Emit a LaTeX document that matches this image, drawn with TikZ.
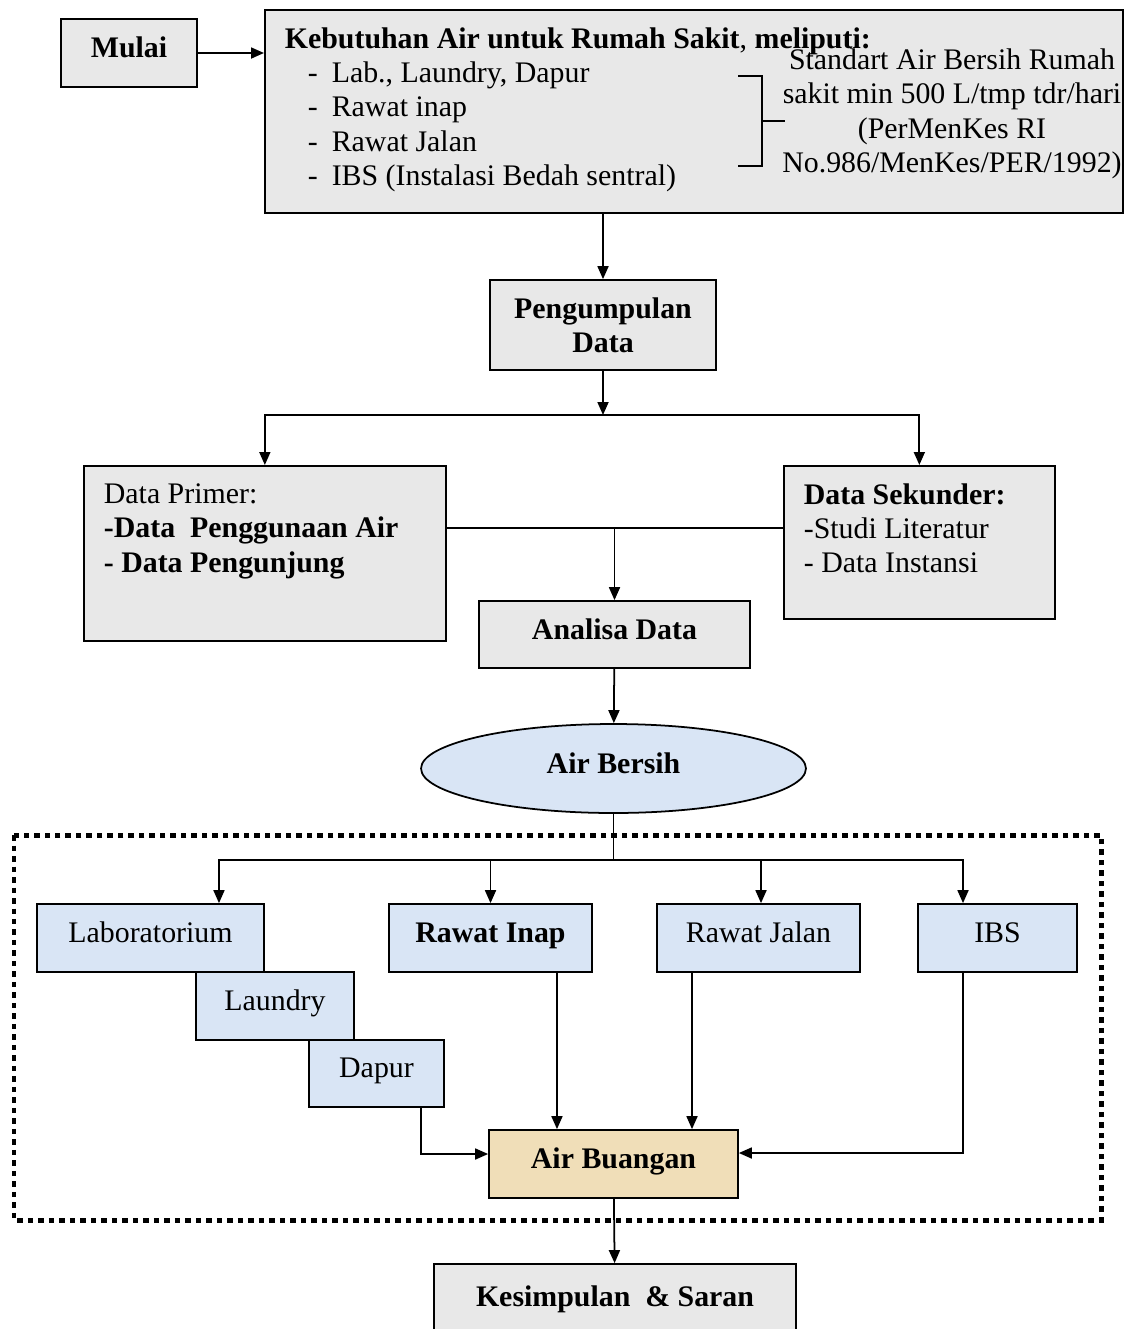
\documentclass[tikz,border=0pt]{standalone}
\usepackage{fontspec}
\setmainfont{Liberation Serif}
\usetikzlibrary{arrows.meta,shapes.geometric}
\definecolor{granit}{RGB}{232,232,232}
\definecolor{langit}{RGB}{217,229,245}
\definecolor{pasir}{RGB}{240,222,184}

\begin{document}
\begin{tikzpicture}[x=0.02cm,y=-0.02cm,
  font=\fontsize{17}{19.6}\selectfont,
  box/.style={rectangle,draw,line width=1pt,fill=granit,align=center,inner sep=0pt},
  lbl/.style={text depth=0.22cm},
  bluebox/.style={box,lbl,fill=langit},
  arr/.style={line width=1pt,-{Triangle[length=0.26cm,width=0.22cm]}},
  dotframe/.style={line width=0.1cm,dash pattern=on 0.11cm off 0.1cm}]
\useasboundingbox (0,0) rectangle (1130,1329);

\node [box,lbl,minimum width=2.72cm,minimum height=1.36cm] (mulai) at (129,53) {\textbf{Mulai}};
\node [box,anchor=north west,inner xsep=0.4cm,inner ysep=0.35cm] (kebutuhan) at (264,9)
  {\parbox[t][3.36cm][t]{16.36cm}{\textbf{Kebutuhan Air untuk Rumah Sakit}, \textbf{meliputi:}\\
   \hspace*{0.46cm}-\hspace{0.28cm}Lab., Laundry, Dapur\\
   \hspace*{0.46cm}-\hspace{0.28cm}Rawat inap\\
   \hspace*{0.46cm}-\hspace{0.28cm}Rawat Jalan\\
   \hspace*{0.46cm}-\hspace{0.28cm}IBS (Instalasi Bedah sentral)}};
\node [align=center,inner sep=0pt] (standar) at (952,114)
  {Standart Air Bersih Rumah\\sakit min 500 L/tmp tdr/hari\\(PerMenKes RI\\No.986/MenKes/PER/1992)};
\draw [line width=1pt] (738,76) -| (762,166) -- (738,166);
\draw [line width=1pt] (762,121) -- (785,121);

\node [box,minimum width=4.52cm,minimum height=1.8cm] (kumpul) at (603,325) {\textbf{Pengumpulan}\\\textbf{Data}};
\node [box,anchor=north west,inner xsep=0.4cm,inner ysep=0.35cm] (primer) at (83,465)
  {\parbox[t][2.8cm][t]{6.44cm}{Data Primer:\\\textbf{-Data\ \ Penggunaan Air}\\\textbf{- Data Pengunjung}}};
\node [box,anchor=north west,inner xsep=0.4cm,inner ysep=0.35cm] (sekunder) at (783,465)
  {\parbox[t][2.36cm][t]{4.62cm}{\textbf{Data Sekunder:}\\-Studi Literatur\\- Data Instansi}};
\node [box,lbl,minimum width=5.42cm,minimum height=1.34cm] (analisa) at (614.5,634.5) {\textbf{Analisa Data}};
\node [box,lbl,ellipse,fill=langit,minimum width=7.7cm,minimum height=1.78cm] (bersih) at (613.5,768.5) {\textbf{Air Bersih}};

\node [bluebox,minimum width=4.54cm,minimum height=1.36cm] (lab) at (150.5,938) {Laboratorium};
\node [bluebox,minimum width=4.06cm,minimum height=1.36cm] (inap) at (490.5,938) {\textbf{Rawat Inap}};
\node [bluebox,minimum width=4.06cm,minimum height=1.36cm] (jalan) at (758.5,938) {Rawat Jalan};
\node [bluebox,minimum width=3.18cm,minimum height=1.36cm] (ibs) at (997.5,938) {IBS};
\node [bluebox,minimum width=3.16cm,minimum height=1.36cm] (laundry) at (275,1006) {Laundry};
\node [bluebox,minimum width=2.7cm,minimum height=1.34cm] (dapur) at (376.5,1073.5) {Dapur};
\node [box,lbl,fill=pasir,minimum width=4.98cm,minimum height=1.36cm] (buangan) at (613.5,1164) {\textbf{Air Buangan}};
\node [box,minimum width=7.24cm,minimum height=1.4cm] (saran) at (615,1299) {\textbf{Kesimpulan\ \ \& Saran}};

\draw [dotframe] (14,835) rectangle (1101,1220);

\coordinate (bagi) at (603,415);
\coordinate (gabung) at (614.5,528);
\coordinate (cabang) at (613.5,860);

\draw [arr] (mulai.east) -- (mulai.east -| kebutuhan.west);
\draw [arr] (kumpul |- kebutuhan.south) -- (kumpul.north);
\draw [arr] (kumpul.south) -- (bagi);
\draw [arr] (bagi) -| (primer.north);
\draw [arr] (bagi) -| (sekunder.north);
\draw [line width=1pt] (primer.east |- gabung) -- (sekunder.west |- gabung);
\draw [arr] (gabung) -- (analisa.north);
\draw [arr] (analisa) -- (bersih);
\draw [line width=1pt] (bersih.south) -- (cabang);
\draw [arr] (cabang) -| ([xshift=1.37cm]lab.north);
\draw [arr] (cabang) -| (inap.north);
\draw [arr] (cabang) -| ([xshift=0.05cm]jalan.north);
\draw [arr] (cabang) -| ([xshift=-0.69cm]ibs.north);
\draw [arr] ([xshift=1.33cm]inap.south) -- ([xshift=1.33cm]inap.south |- buangan.north);
\draw [arr] ([xshift=-1.33cm]jalan.south) -- ([xshift=-1.33cm]jalan.south |- buangan.north);
\draw [arr] ([xshift=-0.69cm]ibs.south) |- ([yshift=0.22cm]buangan.east);
\draw [arr] ([xshift=0.89cm]dapur.south) |- ([yshift=0.2cm]buangan.west);
\draw [arr] (buangan) -- (saran);
\end{tikzpicture}
\end{document}
